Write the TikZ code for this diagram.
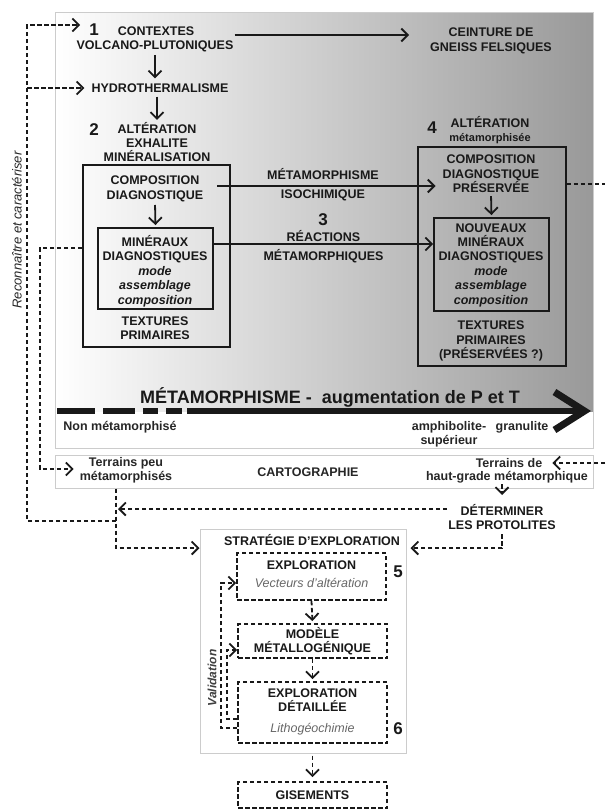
\documentclass[tikz,border=0pt]{standalone}
\usepackage{fontspec}
\setmainfont{Liberation Sans}
\usetikzlibrary{arrows.meta}

\tikzset{
  txt/.style={font=\fontsize{12.5}{14.4}\selectfont\bfseries, align=center, inner sep=1pt, text=black!90},
  small/.style={font=\fontsize{12.5}{14}\selectfont\bfseries, align=center, inner sep=1pt, text=black!85},
  num/.style={font=\fontsize{17}{17}\selectfont\bfseries, inner sep=1pt, text=black!90},
  note/.style={font=\fontsize{12.5}{14}\selectfont\itshape, inner sep=1pt, text=black!60},
  frame/.style={draw=black!90, line width=1.8pt, inner sep=0pt},
  dframe/.style={frame, dash pattern=on 4.5pt off 2.5pt},
  panel/.style={draw=black!20, line width=1pt, inner sep=0pt},
  arr/.style={draw=black!90, -{Straight Barb[length=6.5pt,width=13pt]}, line width=1.8pt},
  darr/.style={arr, dash pattern=on 4.5pt off 2.5pt}
}

\begin{document}
\begin{tikzpicture}[x=1pt,y=-1pt]
\useasboundingbox (0,0) rectangle (605,811);

\shade[left color=white,right color=black!40] (55,12) rectangle (593,411);
\draw[panel] (55,12) rectangle (593,448);

\node[num] (n1) at (94,30) {1};
\node[txt] (ctxA) at (156,31) {CONTEXTES};
\node[txt] (ctxB) at (155,46) {VOLCANO-PLUTONIQUES};
\node[txt] (ceint) at (491,41) {CEINTURE DE\\GNEISS FELSIQUES};
\node[txt] (hydro) at (160,88) {HYDROTHERMALISME};
\node[num] (n2) at (94,130) {2};
\node[txt] (alt2) at (157,142) {ALTÉRATION\\EXHALITE\\MINÉRALISATION};
\node[frame,minimum width=147pt,minimum height=182pt] (box2) at (156.5,256) {};
\node[txt] (comp2) at (155,189) {COMPOSITION\\DIAGNOSTIQUE};
\node[frame,minimum width=115pt,minimum height=81pt] (min2box) at (155.5,268.5) {};
\node[txt] (min2) at (155,271) {MINÉRAUX\\DIAGNOSTIQUES\\\textit{mode}\\\textit{assemblage}\\\textit{composition}};
\node[txt] (tex2) at (155,328) {TEXTURES\\PRIMAIRES};

\node[num] (n4) at (432,128) {4};
\node[txt] (alt4) at (490,130) {ALTÉRATION\\{\fontsize{11}{14}\selectfont métamorphisée}};
\node[frame,minimum width=148pt,minimum height=219pt] (box4) at (492,256.5) {};
\node[txt] (comp4) at (491,174) {COMPOSITION\\DIAGNOSTIQUE\\PRÉSERVÉE};
\node[frame,minimum width=115pt,minimum height=93pt] (min4box) at (491.5,264.5) {};
\node[txt] (min4) at (491,265) {NOUVEAUX\\MINÉRAUX\\DIAGNOSTIQUES\\\textit{mode}\\\textit{assemblage}\\\textit{composition}};
\node[txt] (tex4) at (491,341) {TEXTURES\\PRIMAIRES\\(PRÉSERVÉES ?)};

\coordinate (lvlC) at (0,35);
\coordinate (lvlI) at (0,186);
\coordinate (lvlR) at (0,244);
\coordinate (lvlE) at (605,184);
\draw[arr,shorten >=20pt] (ctxB.east |- lvlC) -- (ceint.west |- lvlC);
\draw[arr,shorten <=2pt,shorten >=4pt] (ctxB.south) -- (ctxB.south |- hydro.north);
\draw[arr,shorten <=3pt,shorten >=1pt] (hydro.south -| alt2.north) -- (alt2.north);
\draw[arr,shorten <=2pt,shorten >=2pt] (comp2.south) -- (min2box.north);
\draw[arr,shorten <=2pt,shorten >=2pt] (comp4.south) -- (min4box.north);
\draw[arr,shorten <=13pt,shorten >=6pt] (comp2.east |- lvlI) -- (comp4.west |- lvlI)
  node[txt,midway,above=4pt] (isoA) {MÉTAMORPHISME}
  node[txt,midway,below=1.5pt] (isoB) {ISOCHIMIQUE};
\draw[arr] (min2box.east |- lvlR) -- (min4box.west |- lvlR)
  node[txt,midway,above=0.5pt] (reac) {RÉACTIONS}
  node[txt,midway,below=4pt] (reacB) {MÉTAMORPHIQUES};
\node[num] (n3) at (323,220) {3};
\draw[darr,-] (box4.east |- lvlE) -- (lvlE);

\node[font=\fontsize{18}{18}\selectfont\bfseries, text=black!90, inner sep=0pt] (metaT) at (330,397) {MÉTAMORPHISME -\ \ augmentation de P et T};
\foreach \a/\b in {57/95,103/135,143/158,166/182}
  \fill[black!90] (\a,408) rectangle (\b,414);
\draw[black!90, line width=6pt, -{Straight Barb[length=30pt,width=38pt,line width=7pt]}] (187,411) -- (591,411);
\node[small] (nonmeta) at (120,427) {Non métamorphisé};
\node[small] (amph) at (449,434) {amphibolite-\\supérieur};
\node[small] (gran) at (522,427) {granulite};

\node[panel,minimum width=538pt,minimum height=33pt] (carto) at (324,471.5) {};
\node[small] (terrpeu) at (126,470) {Terrains peu\\métamorphisés};
\node[small] (cartoT) at (308,472) {CARTOGRAPHIE};
\node[small] (terrde) at (509,463) {Terrains de};
\node[small] (terrhaut) at (507,477) {haut-grade métamorphique};
\node[txt] (determ) at (502,517) {DÉTERMINER\\LES PROTOLITES};

\node[panel,minimum width=206pt,minimum height=224pt] (strat) at (303,641) {};
\node[txt] (stratT) at (312,540) {STRATÉGIE D'EXPLORATION};
\node[dframe,minimum width=149pt,minimum height=47pt] (box5) at (311.5,576.5) {};
\node[txt] (expl5) at (311.5,565) {EXPLORATION};
\node[note] (vect) at (311.5,583) {Vecteurs d'altération};
\node[num] (n5) at (398,572) {5};
\node[dframe,txt,minimum width=149pt,minimum height=34pt] (modele) at (312.5,641) {MODÈLE\\MÉTALLOGÉNIQUE};
\node[dframe,minimum width=149pt,minimum height=61pt] (box6) at (312.5,712.5) {};
\node[txt] (expl6) at (312.5,700) {EXPLORATION\\DÉTAILLÉE};
\node[note] (litho) at (312.5,729) {Lithogéochimie};
\node[num] (n6) at (398,729) {6};
\node[dframe,txt,minimum width=149pt,minimum height=26pt] (gis) at (312.5,795) {GISEMENTS};

\node[font=\fontsize{13}{13}\selectfont\itshape, text=black!85, rotate=90, inner sep=0pt] (recon) at (17,230) {Reconnaître et caractériser};
\node[font=\fontsize{12}{12}\selectfont\bfseries\itshape, text=black!75, rotate=90, inner sep=0pt] (valid) at (212,678) {Validation};

\coordinate (lvlL) at (0,248);
\coordinate (cA) at (40,469);
\coordinate (cTL) at (27,25);
\coordinate (cBL) at (27,521);
\coordinate (jB) at (116,521);
\coordinate (lvlD) at (0,509);
\coordinate (lvlS) at (0,548);
\coordinate (eR) at (605,463);
\coordinate (v1) at (221,728);
\coordinate (v2) at (227,719);
\coordinate (v2t) at (227,650);
\draw[darr,shorten >=5pt] (box2.west |- lvlL) -| (cA) -- (cA -| terrpeu.west);
\draw[darr,shorten >=8pt] (jB) -- (cBL) -- (cTL) -- (cTL -| n1.west);
\draw[darr,shorten >=6pt] (cBL |- hydro) -- (hydro.west);
\draw[darr] (jB |- carto.south) -- (jB |- lvlS) -- (strat.west |- lvlS);
\draw[darr,shorten >=2pt] (determ.west |- lvlD) -- (jB |- lvlD);
\draw[darr,shorten <=3pt,shorten >=4pt] (determ.south) |- (strat.east |- lvlS);
\draw[darr,shorten >=8pt] (terrhaut.south -| determ) -- (determ.north);
\draw[darr,shorten >=9pt] (eR) -- (terrde.east);

\draw[darr,shorten >=2pt] (box5.south) -- (modele.north);
\draw[darr,shorten >=2pt] (modele.south) -- (box6.north);
\draw[darr,shorten <=2pt,shorten >=4pt] (strat.south -| gis) -- (gis.north);
\draw[darr] (box6.west |- v1) -| (v1 |- vect) -- (vect -| box5.west);
\draw[darr] (box6.west |- v2) -| (v2t) -- (v2t -| modele.west);
\end{tikzpicture}
\end{document}
